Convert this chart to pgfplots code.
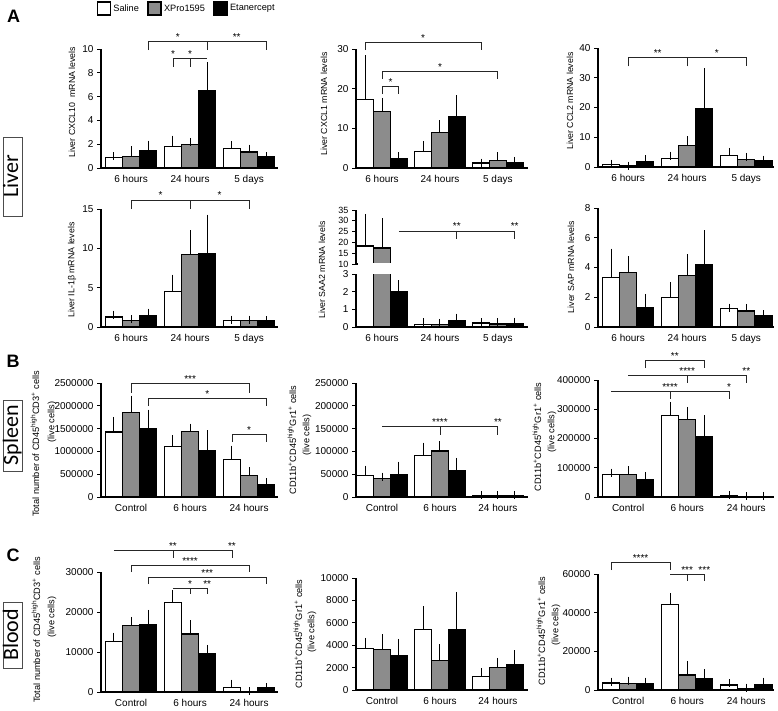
\documentclass[border=0pt]{standalone}
\usepackage{pgfplots}
\pgfplotsset{compat=1.18}
\usepackage{fontspec}
\setmainfont{Liberation Sans}
\newfontfamily\boxfont{Carlito}
\definecolor{barg}{RGB}{140,140,140}
\pgfplotsset{
 gp/.style={
  scale only axis, anchor=south west,
  axis x line=bottom, axis y line=left,
  axis line style={line width=1.2pt,-},
  x axis line style={-}, y axis line style={-},
  ymin=0, xtick={0,1,2}, xtick style={draw=none},
  ytick style={line width=1pt,black},
  tick align=outside, major tick length=4pt,
  tick label style={font=\fontsize{10}{12}\selectfont},
  /pgf/number format/assume math mode=true,
  yticklabel style={/pgf/number format/fixed,/pgf/number format/1000 sep={}},
  scaled y ticks=false,
  clip=false,
  ybar, bar width=0.29,
 },
 c1/.style={xmin=-0.51,xmax=2.49,width=177pt},
 c2/.style={xmin=-0.45,xmax=2.52,width=172pt},
 c3/.style={xmin=-0.51,xmax=2.47,width=176pt},
 eb/.style={error bars/y dir=plus,error bars/y explicit,
   error bars/error bar style={line width=1pt,black,solid},
   error bars/error mark options={line width=1pt,black,mark size=4pt,solid}},
 sal/.style={fill=white,draw=black,line width=1.2pt,bar shift=-0.29,eb},
 xpr/.style={fill=barg,draw=black,line width=1.2pt,bar shift=0,eb},
 eta/.style={fill=black,draw=black,line width=1.2pt,bar shift=0.29,eb},
}
\tikzset{
 bkt/.style={line width=0.9pt,black!85},
 stt/.style={anchor=base,inner sep=0pt,yshift=1pt,font=\fontsize{10}{10}\selectfont},
 ylab/.style={rotate=90,inner sep=0pt,font=\fontsize{8.8}{10}\selectfont},
 ylabb/.style={rotate=90,inner sep=0pt,font=\fontsize{9.2}{10}\selectfont},
 rowbox/.style={draw=black!70,line width=0.8pt,rotate=90,inner sep=0pt,text height=15pt,text depth=4pt,font=\boxfont\fontsize{22}{24}\selectfont},
}
\newcommand\brk[4]{\draw[bkt] (axis cs:#1,#4) |- (axis cs:#2,#3) -- (axis cs:#2,#4);}
\newcommand\st[3]{\node[stt] at (axis cs:#1,#2) {#3};}
\newcommand\cln[3]{\draw[bkt] (axis cs:#1,#2) -- (axis cs:#3,#2);}
\newcommand\drp[3]{\draw[bkt] (axis cs:#1,#2) -- (axis cs:#1,#3);}
\begin{document}
\begin{tikzpicture}
% ---------------- Row A1
\begin{axis}[gp,c1,at={(101pt,-168pt)},height=119pt,ymax=10,ytick={0,2,4,6,8,10},
  xticklabels={6 hours,24 hours,5 days},
  legend style={at={(axis description cs:-0.025,1.34)},anchor=west,draw=none,fill=none,
   legend columns=3,font=\fontsize{9.2}{11}\selectfont,inner sep=0pt,
   nodes={inner sep=2.5pt},
   /tikz/every even column/.append style={column sep=6pt}},legend cell align=left]
\addlegendimage{legend image code/.code={\draw[fill=white,draw=black,line width=1.1pt](0pt,-6.5pt) rectangle (13pt,6.5pt);}}
\addlegendentry{Saline}
\addlegendimage{legend image code/.code={\draw[fill=barg,draw=black,line width=1.1pt](0pt,-6.5pt) rectangle (13pt,6.5pt);}}
\addlegendentry{XPro1595}
\addlegendimage{legend image code/.code={\draw[fill=black,draw=black,line width=1.1pt](0pt,-6.5pt) rectangle (13pt,6.5pt);}}
\addlegendentry{Etanercept}
\addplot[sal,forget plot] coordinates {(0,0.85) += (0,0.14) (1,1.83) += (0,0.56) (2,1.63) += (0,0.29)};
\addplot[xpr,forget plot] coordinates {(0,0.99) += (0,0.51) (1,1.97) += (0,0.23) (2,1.35) += (0,0.28)};
\addplot[eta,forget plot] coordinates {(0,1.44) += (0,0.53) (1,6.5) += (0,2.04) (2,0.93) += (0,0.04)};
\brk{0.29}{1.29}{10.67}{9.9} \st{0.79}{10.67}{*}
\brk{1.29}{2.29}{10.67}{9.9} \st{1.79}{10.67}{**}
\cln{0.71}{9.24}{1.29} \drp{0.71}{9.24}{8.5} \drp{1.0}{9.24}{8.5}
\st{0.71}{9.24}{*} \st{1.0}{9.24}{*}
\end{axis}
% ---------------- Row A2
\begin{axis}[gp,c2,at={(356pt,-168pt)},height=119pt,ymax=30,ytick={0,10,20,30},
  xticklabels={6 hours,24 hours,5 days}]
\addplot[sal] coordinates {(0,17.3) += (0,10.1) (1,4.2) += (0,1.5) (2,1.26) += (0,0.1)};
\addplot[xpr] coordinates {(0,14.3) += (0,2.4) (1,8.9) += (0,2.1) (2,1.85) += (0,1.15)};
\addplot[eta] coordinates {(0,2.36) += (0,0.64) (1,12.9) += (0,4.4) (2,1.35) += (0,0.42)};
\brk{-0.29}{1.71}{31.7}{29.7} \st{0.71}{31.7}{*}
\brk{0}{2}{24.4}{22.4} \st{1}{24.4}{*}
\brk{0}{0.29}{20.5}{18.6} \st{0.145}{20.5}{*}
\end{axis}
% ---------------- Row A3
\begin{axis}[gp,c3,at={(598pt,-167pt)},height=119pt,ymax=40,ytick={0,10,20,30,40},
  xticklabels={6 hours,24 hours,5 days}]
\addplot[sal] coordinates {(0,0.79) += (0,0.31) (1,2.8) += (0,1.0) (2,3.8) += (0,1.3)};
\addplot[xpr] coordinates {(0,0.45) += (0,0.05) (1,7.3) += (0,1.7) (2,2.5) += (0,0.9)};
\addplot[eta] coordinates {(0,1.7) += (0,0.9) (1,19.5) += (0,12.3) (2,2.1) += (0,0.4)};
\brk{0}{1}{36.96}{33.8} \st{0.5}{36.96}{**}
\brk{1}{2}{36.96}{33.8} \st{1.5}{36.96}{*}
\end{axis}
% ---------------- Row A4
\begin{axis}[gp,c1,at={(101pt,-327pt)},height=118pt,ymax=15,ytick={0,5,10,15},
  xticklabels={6 hours,24 hours,5 days}]
\addplot[sal] coordinates {(0,1.27) += (0,0.3) (1,4.55) += (0,1.61) (2,0.85) += (0,0.08)};
\addplot[xpr] coordinates {(0,0.85) += (0,0.13) (1,9.22) += (0,2.58) (2,0.85) += (0,0.08)};
\addplot[eta] coordinates {(0,1.4) += (0,0.43) (1,9.39) += (0,4.38) (2,0.8) += (0,0.05)};
\brk{0}{1}{16.15}{15} \st{0.5}{16.15}{*}
\brk{1}{2}{16.15}{15} \st{1.5}{16.15}{*}
\end{axis}
% ---------------- Row A5 (broken axis): lower part
\begin{axis}[gp,c2,at={(356pt,-327pt)},height=53pt,ymax=3,ytick={0,1,2,3},clip=true,
  xticklabels={6 hours,24 hours,5 days}]
\addplot[sal] coordinates {(0,18.3) += (0,13.0) (1,0.15) += (0,0.11) (2,0.23) += (0,0.05)};
\addplot[xpr] coordinates {(0,17.4) += (0,12.0) (1,0.15) += (0,0.08) (2,0.17) += (0,0.09)};
\addplot[eta] coordinates {(0,1.98) += (0,0.45) (1,0.38) += (0,0.15) (2,0.19) += (0,0.11)};
\end{axis}
% upper part (only the 6-hour bars reach above 10)
\begin{axis}[gp,c2,at={(356pt,-264pt)},height=54pt,ymin=10,ymax=35,ytick={10,15,20,25,30,35},
  clip=true,hide x axis,tick label style={font=\fontsize{9}{10}\selectfont}]
\addplot[sal] coordinates {(0,18.3) += (0,13.0)};
\addplot[xpr] coordinates {(0,17.4) += (0,12.0)};
\cln{0.29}{25.3}{2.29} \drp{1.29}{25.3}{21.6} \drp{2.29}{25.3}{21.6}
\st{1.29}{25.3}{**} \st{2.29}{25.3}{**}
\end{axis}
% ---------------- Row A6
\begin{axis}[gp,c3,at={(598pt,-327pt)},height=119pt,ymax=8,ytick={0,2,4,6,8},
  xticklabels={6 hours,24 hours,5 days}]
\addplot[sal] coordinates {(0,3.31) += (0,1.69) (1,1.96) += (0,0.81) (2,1.24) += (0,0.07)};
\addplot[xpr] coordinates {(0,3.67) += (0,0.81) (1,3.45) += (0,1.17) (2,1.08) += (0,0.2)};
\addplot[eta] coordinates {(0,1.31) += (0,0.65) (1,4.21) += (0,2.03) (2,0.79) += (0,0.07)};
\end{axis}
% ---------------- Row B1
\begin{axis}[gp,c1,at={(101pt,-497pt)},height=114pt,ymax=2500000,
  ytick={0,500000,1000000,1500000,2000000,2500000},
  xticklabels={Control,6 hours,24 hours}]
\addplot[sal] coordinates {(0,1425000) += (0,242000) (1,1111000) += (0,154000) (2,819000) += (0,219000)};
\addplot[xpr] coordinates {(0,1857000) += (0,277000) (1,1440000) += (0,80000) (2,468000) += (0,95000)};
\addplot[eta] coordinates {(0,1490000) += (0,340000) (1,1009000) += (0,365000) (2,278000) += (0,51000)};
\brk{0}{2}{2485000}{2288000} \st{1}{2485000}{***}
\brk{0.29}{2.29}{2156000}{1995000} \st{1.29}{2156000}{*}
\brk{1.71}{2.29}{1374000}{1206000} \st{2}{1374000}{*}
\end{axis}
% ---------------- Row B2
\begin{axis}[gp,c2,at={(356pt,-497pt)},height=114pt,ymax=250000,
  ytick={0,50000,100000,150000,200000,250000},
  xticklabels={Control,6 hours,24 hours}]
\addplot[sal] coordinates {(0,47800) += (0,12500) (1,90400) += (0,19900) (2,2900) += (0,800)};
\addplot[xpr] coordinates {(0,40400) += (0,4500) (1,100700) += (0,12500) (2,2900) += (0,800)};
\addplot[eta] coordinates {(0,50000) += (0,19100) (1,58800) += (0,18400) (2,3200) += (0,800)};
\cln{0}{153700}{2} \drp{1}{153700}{136000} \drp{2}{153700}{136000}
\st{1}{153700}{****} \st{2}{153700}{**}
\end{axis}
% ---------------- Row B3
\begin{axis}[gp,c3,at={(598pt,-497pt)},height=117pt,ymax=400000,
  ytick={0,100000,200000,300000,400000},
  xticklabels={Control,6 hours,24 hours}]
\addplot[sal] coordinates {(0,76600) += (0,6800) (1,280000) += (0,32000) (2,4000) += (0,1500)};
\addplot[xpr] coordinates {(0,77700) += (0,13700) (1,266300) += (0,28600) (2,2500) += (0,800)};
\addplot[eta] coordinates {(0,60600) += (0,10300) (1,205700) += (0,59400) (2,3000) += (0,1000)};
\brk{0.29}{1.29}{468400}{441000} \st{0.79}{468400}{**}
\cln{0}{417000}{2} \drp{1}{417000}{389700} \drp{2}{417000}{389700}
\st{1}{417000}{****} \st{2}{417000}{**}
\cln{-0.29}{362400}{1.71} \drp{0.71}{362400}{335000} \drp{1.71}{362400}{335000}
\st{0.71}{362400}{****} \st{1.71}{362400}{*}
\end{axis}
% ---------------- Row C1
\begin{axis}[gp,c1,at={(101pt,-692pt)},height=120pt,ymax=30000,
  ytick={0,10000,20000,30000},
  xticklabels={Control,6 hours,24 hours}]
\addplot[sal] coordinates {(0,12570) += (0,1260) (1,22380) += (0,2100) (2,1090) += (0,1010)};
\addplot[xpr] coordinates {(0,16600) += (0,1170) (1,14500) += (0,2430) (2,100) += (0,50)};
\addplot[eta] coordinates {(0,16760) += (0,2770) (1,9640) += (0,1170) (2,1000) += (0,200)};
\cln{-0.29}{35500}{1.71} \drp{0.71}{35500}{33500} \drp{1.71}{35500}{33500}
\st{0.71}{35500}{**} \st{1.71}{35500}{**}
\brk{0}{2}{31750}{30000} \st{1}{31750}{****}
\brk{0.29}{2.29}{28750}{27000} \st{1.29}{28750}{***}
\cln{0.71}{26000}{1.29} \drp{1}{26000}{24500} \drp{1.29}{26000}{24500}
\st{1}{26000}{*} \st{1.29}{26000}{**}
\end{axis}
% ---------------- Row C2
\begin{axis}[gp,c2,at={(356pt,-690pt)},height=112pt,ymax=10000,
  ytick={0,2000,4000,6000,8000,10000},
  xticklabels={Control,6 hours,24 hours}]
\addplot[sal] coordinates {(0,3710) += (0,590) (1,5400) += (0,1720) (2,1190) += (0,380)};
\addplot[xpr] coordinates {(0,3620) += (0,980) (1,2610) += (0,1100) (2,2020) += (0,500)};
\addplot[eta] coordinates {(0,3030) += (0,1180) (1,5430) += (0,2970) (2,2230) += (0,970)};
\end{axis}
% ---------------- Row C3
\begin{axis}[gp,c3,at={(598pt,-690pt)},height=116pt,ymax=60000,
  ytick={0,20000,40000,60000},
  xticklabels={Control,6 hours,24 hours}]
\addplot[sal] coordinates {(0,3630) += (0,690) (1,44080) += (0,3980) (2,2590) += (0,870)};
\addplot[xpr] coordinates {(0,3460) += (0,1380) (1,7780) += (0,5180) (2,860) += (0,350)};
\addplot[eta] coordinates {(0,3110) += (0,1210) (1,5700) += (0,2940) (2,2590) += (0,1730)};
\brk{-0.29}{0.71}{66200}{62000} \st{0.21}{66200}{****}
\cln{0.71}{60000}{1.29} \drp{1}{60000}{56400} \drp{1.29}{60000}{56400}
\st{1}{60000}{***} \st{1.29}{60000}{***}
\end{axis}
% gap of the broken SAA2 axis
\fill[white] (357.6pt,-263.3pt) rectangle (398pt,-267pt);
% ---------------- y labels
\node[ylab] at (72pt,-102pt) {Liver CXCL10\ \ mRNA levels};
\node[ylab] at (324pt,-104pt) {Liver CXCL1 mRNA levels};
\node[ylab] at (570pt,-101pt) {Liver CCL2 mRNA levels};
\node[ylab] at (72pt,-270pt) {Liver IL-1β mRNA levels};
\node[ylab] at (322pt,-270pt) {Liver SAA2 mRNA levels};
\node[ylab] at (571pt,-267pt) {Liver SAP mRNA levels};
\node[ylabb] at (35pt,-444pt) {Total number of CD45\textsuperscript{high}CD3\textsuperscript{+} cells};
\node[ylabb] at (52pt,-422pt) {(live cells)};
\node[ylabb] at (292pt,-440pt) {CD11b\textsuperscript{+}CD45\textsuperscript{high}Gr1\textsuperscript{+} cells};
\node[ylabb] at (307pt,-435pt) {(live cells)};
\node[ylabb] at (537pt,-437pt) {CD11b\textsuperscript{+}CD45\textsuperscript{high}Gr1\textsuperscript{+} cells};
\node[ylabb] at (552pt,-432pt) {(live cells)};
\node[ylabb] at (36pt,-630pt) {Total number of CD45\textsuperscript{high}CD3\textsuperscript{+} cells};
\node[ylabb] at (52pt,-617pt) {(live cells)};
\node[ylabb] at (298pt,-634pt) {CD11b\textsuperscript{+}CD45\textsuperscript{high}Gr1\textsuperscript{+} cells};
\node[ylabb] at (312pt,-632pt) {(live cells)};
\node[ylabb] at (541pt,-631pt) {CD11b\textsuperscript{+}CD45\textsuperscript{high}Gr1\textsuperscript{+} cells};
\node[ylabb] at (556pt,-625pt) {(live cells)};
% ---------------- panel letters and row boxes
\node[font=\bfseries\fontsize{18}{20}\selectfont] at (13.5pt,-16.5pt) {A};
\node[font=\bfseries\fontsize{18}{20}\selectfont] at (13pt,-361pt) {B};
\node[font=\bfseries\fontsize{18}{20}\selectfont] at (13pt,-555pt) {C};
\node[rowbox,minimum width=79pt] at (12.5pt,-176.5pt) {Liver};
\node[rowbox,minimum width=71pt] at (12.5pt,-435.5pt) {Spleen};
\node[rowbox,minimum width=66pt] at (12.5pt,-635pt) {Blood};
\pgfresetboundingbox
\path (0pt,0pt) rectangle (778pt,-710pt);
\end{tikzpicture}
\end{document}
